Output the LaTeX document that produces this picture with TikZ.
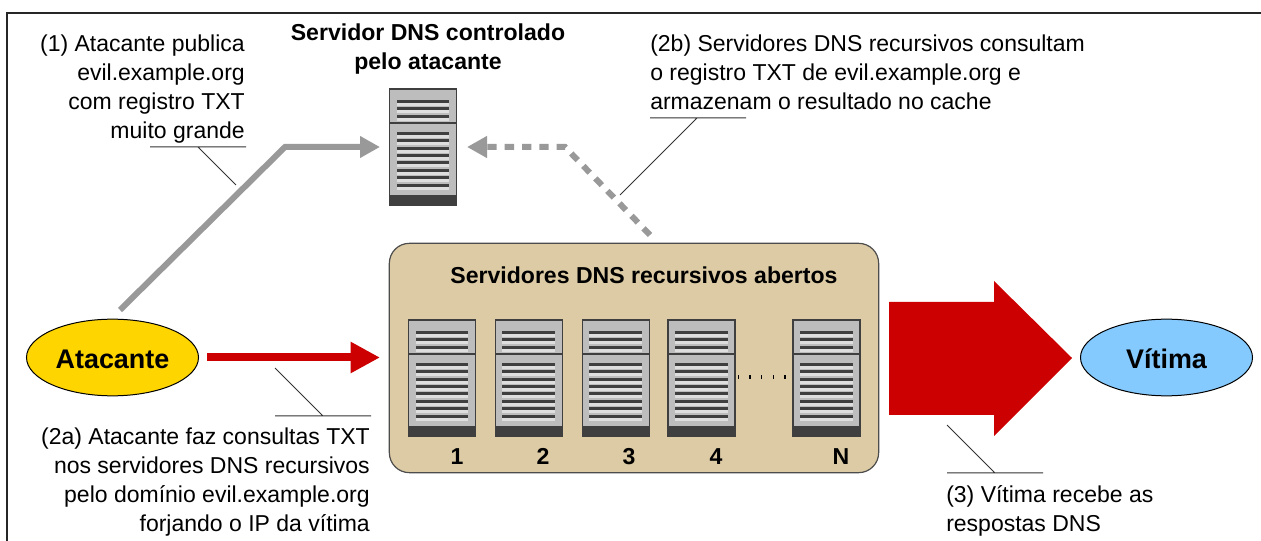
\documentclass[tikz,border=0pt]{standalone}
\usepackage{fontspec}
\setmainfont{Liberation Sans}
\usetikzlibrary{arrows.meta,shapes.geometric}
\definecolor{srvbody}{HTML}{BDBDBD}
\definecolor{srvdark}{HTML}{3F3F3F}
\definecolor{srvlight}{HTML}{DEDEDE}
\definecolor{boxtan}{HTML}{DCCBA4}
\definecolor{redarr}{HTML}{CC0000}
\definecolor{greyarr}{HTML}{999999}
\definecolor{atkfill}{HTML}{FFD500}
\definecolor{vicfill}{HTML}{85CAFF}
\tikzset{
    note/.style={inner sep=0pt,font=\fontsize{17.25}{21.75}\selectfont},
    head/.style={inner sep=0pt,font=\bfseries\fontsize{17.3}{21.75}\selectfont},
    actor/.style={ellipse,draw=black,line width=.75pt,minimum width=129pt,minimum height=57.5pt,inner sep=0pt,text height=16.5pt,text depth=0pt,font=\bfseries\fontsize{20.2}{24}\selectfont},
    callout/.style={line width=.75pt,draw=black!80},
    greyline/.style={line width=4.5pt,draw=greyarr,-{Triangle[length=15pt,width=15.5pt,fill=greyarr]}},
    server/.pic={
        \fill[srvbody](0,0)rectangle(67,106);
        \fill[srvdark](0,106)rectangle(67,116);
        \draw[srvdark,line width=.8pt](0,0)rectangle(67,116);
        \draw[srvdark,line width=.8pt](0,34)--(67,34);
        \foreach \y in {11,18.5,26,43,50.4,57.6,65,72,80,87.4,94.6}
        {
            \fill[srvlight](7,\y+3)rectangle(59.5,\y+6);
            \fill[srvdark](7,\y)rectangle(59.5,\y+3);
        }
    }
}
\begin{document}
\begin{tikzpicture}[x=.75pt,y=-.75pt]
\useasboundingbox (0,0) rectangle (1261,541);
\draw[line width=.9pt,black!85](7,541)--(7,13)--(1261,13);
% boxes
\node (resolvers) at (634,358) [draw=black!70,line width=.9pt,fill=boxtan,rounded corners=15pt,minimum width=367pt,minimum height=172pt,inner sep=0pt]{};
\node [head] (restitle) at (644,275) {Servidores DNS recursivos abertos};
\pic at (389.5,89) {server};
\foreach \x in {408.7,495.3,582.4,668,793}
{
    \pic at (\x,320) {server};
}
\foreach \x/\n in {457/1,543/2,629/3,716/4,841/N}
{
    \node [head,text height=12.4pt,text depth=0pt] (num\n) at (\x,456) {\n};
}
\foreach \x in {738.3,750,761.6,773.3,785}
{
    \fill (\x-.8,375)rectangle(\x+.8,379);
}
% actors
\node [actor,fill=atkfill] (atacante) at (112.5,357.5) {Atacante};
\node [actor,fill=vicfill] (vitima) at (1166.5,357.5) {Vítima};
% arrows
\coordinate (pubstart) at (120,310);
\coordinate (pubbend) at (285,147);
\coordinate (pubend) at (380,147);
\draw[greyline] (pubstart)--(pubbend)--(pubend);
\coordinate (cachestart) at (650,235);
\coordinate (cachebend) at (565,147);
\coordinate (cacheend) at (467,147);
\draw[greyline,dash pattern=on 7pt off 6pt] (cachestart)--(cachebend)--(cacheend);
\coordinate (qryend) at (380,357.5);
\draw[redarr,line width=6pt,shorten <=6pt,-{Triangle[length=22pt,width=22pt]}] (atacante.east)--(qryend);
\fill[redarr] (889,302)--(994,302)--(994,281)--(1072,358)--(994,436)--(994,415)--(889,415)--cycle;
% texts
\node [head,align=center] (ctltitle) at (428,49.5) {Servidor DNS controlado\\pelo atacante};
\node [note,align=right,anchor=north east] (note1) at (245,34.5) {(1) Atacante publica\\evil.example.org\\com registro TXT\\muito grande};
\node [note,align=left,anchor=north west] (note2b) at (650,34.5) {(2b) Servidores DNS recursivos consultam\\o registro TXT de evil.example.org e\\armazenam o resultado no cache};
\node [note,align=right,anchor=north east] (note2a) at (370,427.5) {(2a) Atacante faz consultas TXT\\nos servidores DNS recursivos\\pelo domínio evil.example.org\\forjando o IP da vítima};
\node [note,align=left,anchor=north west] (note3) at (946,485.5) {(3) Vítima recebe as\\respostas DNS};
% callouts
\coordinate (c1a) at (150,147);
\coordinate (c1b) at (246,147);
\coordinate (c1c) at (198,147);
\coordinate (c1d) at (236,185);
\draw[callout] (c1a)--(c1b) (c1c)--(c1d);
\coordinate (c2a) at (650,118);
\coordinate (c2b) at (746,118);
\coordinate (c2c) at (697,118);
\coordinate (c2d) at (620,195);
\draw[callout] (c2a)--(c2b) (c2c)--(c2d);
\coordinate (c3a) at (275,416);
\coordinate (c3b) at (371,416);
\coordinate (c3c) at (323,416);
\coordinate (c3d) at (275,368);
\draw[callout] (c3a)--(c3b) (c3c)--(c3d);
\coordinate (c4a) at (947,473);
\coordinate (c4b) at (1043,473);
\coordinate (c4c) at (995,473);
\coordinate (c4d) at (947,425);
\draw[callout] (c4a)--(c4b) (c4c)--(c4d);
\end{tikzpicture}
\end{document}
